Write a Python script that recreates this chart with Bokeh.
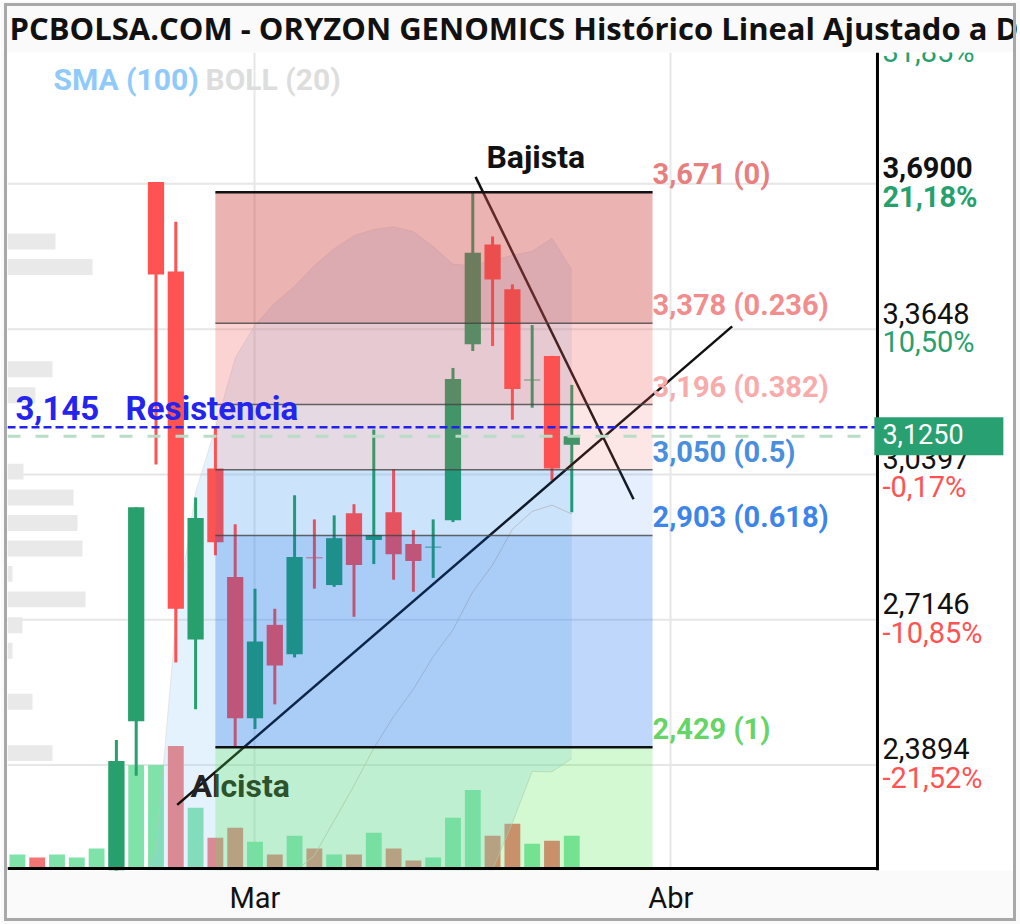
from bokeh.plotting import figure
from bokeh.models import Range1d, FixedTicker
from bokeh.core.properties import value
from bokeh.embed import file_html
from bokeh.resources import INLINE

# ---------------- data ----------------
# trading-day index of every session shown (volume row)
idx = list(range(29))
volume_k = [70, 55, 70, 55, 100, 500, 520, 520, 615, 305, 155, 205, 135, 70, 165,
            100, 70, 70, 180, 100, 40, 55, 255, 395, 165, 225, 125, 140, 165]
volume_dir = ["up", "down", "up", "up", "up", "up", "up", "up", "down", "up", "down",
              "down", "up", "down", "up", "down", "up", "down", "up", "down", "down",
              "up", "up", "up", "down", "down", "up", "down", "up"]

# candles inside the visible price range
c_idx = list(range(5, 29))
c_open = [2.05, 2.487, 3.694, 3.494, 2.670, 3.053, 2.810, 2.494, 2.703, 2.637, 2.854, 2.792,
          2.953, 2.893, 2.955, 2.884, 2.876, 2.937, 3.331, 3.554, 3.454, 3.250, 3.305, 3.106]
c_close = [2.398, 2.966, 3.487, 2.739, 2.942, 2.888, 2.494, 2.666, 2.612, 2.855, 2.852, 2.897,
           2.837, 2.904, 2.861, 2.846, 2.878, 3.253, 3.536, 3.476, 3.231, 3.252, 3.053, 3.125]
c_high = [2.445, 2.966, 3.694, 3.605, 2.988, 3.144, 2.928, 2.784, 2.739, 2.993, 2.939, 2.948,
          2.973, 3.140, 3.051, 2.915, 2.939, 3.278, 3.671, 3.572, 3.465, 3.374, 3.305, 3.240]
c_low = [2.00, 2.365, 3.062, 2.619, 2.514, 2.859, 2.429, 2.470, 2.525, 2.630, 2.784, 2.788,
         2.721, 2.839, 2.804, 2.777, 2.808, 2.933, 3.316, 3.327, 3.162, 3.189, 3.026, 2.955]

# Bollinger (20)
bb_idx = list(range(6, 29))
bb_upper = [2.10, 2.198, 2.710, 3.000, 3.144, 3.300, 3.374, 3.423, 3.461, 3.507, 3.545, 3.574,
            3.588, 3.594, 3.583, 3.550, 3.510, 3.507, 3.519, 3.530, 3.539, 3.568, 3.498]
bb_mid = [1.86, 1.88, 1.93, 1.97, 2.01, 2.05, 2.08, 2.11, 2.15, 2.187, 2.265, 2.343,
          2.427, 2.498, 2.559, 2.632, 2.692, 2.777, 2.837, 2.917, 2.957, 2.971, 2.951]
bb_lower = [1.62, 1.562, 1.15, 0.94, 0.876, 0.80, 0.786, 0.797, 0.839, 0.867, 0.985, 1.112,
            1.266, 1.402, 1.535, 1.714, 1.874, 2.047, 2.155, 2.26, 2.375, 2.374, 2.404]

# volume-by-price profile
vp_price = [3.561, 3.504, 3.275, 3.217, 3.046, 2.988, 2.931, 2.874, 2.817, 2.760, 2.702, 2.645, 2.531, 2.416]
vp_volume = [480, 850, 450, 280, 160, 660, 700, 750, 50, 780, 150, 50, 250, 450]

# Fibonacci retracement
fib_levels = [3.671, 3.378, 3.196, 3.050, 2.903, 2.429]
fib_ratios = ["0", "0.236", "0.382", "0.5", "0.618", "1"]
fib_span = [10, 32.08]

# trend lines
bajista_x, bajista_y = [23.14, 31.12], [3.7056, 2.984]
alcista_x, alcista_y = [8.07, 36.1], [2.300, 3.371]

resistance = 3.145
last_price = 3.125

# right price scale
axis_prices = [4.0151, 3.6900, 3.3648, 3.0397, 2.7146, 2.3894]
axis_price_labels = ["4,0151", "3,6900", "3,3648", "3,0397", "2,7146", "2,3894"]
axis_pct_labels = ["31,85%", "21,18%", "10,50%", "-0,17%", "-10,85%", "-21,52%"]

month_ticks = [12, 33]
month_labels = ["Mar", "Abr"]

title_text = "PCBOLSA.COM - ORYZON GENOMICS Histórico Lineal Ajustado a D"

# ---------------- styling ----------------
GREEN = "#27a06d"
RED = "#ff5252"
VGREEN = "#7fe2a9"
VRED = "#f27474"
ROBOTO = value("Roboto")

X_MIN, X_MAX = -0.5, 50.31
Y_MIN, Y_MAX = 2.1532, 3.984
X_AXIS = 43.44

p = figure(width=1020, height=924, x_range=Range1d(X_MIN, X_MAX), y_range=Range1d(Y_MIN, Y_MAX),
           output_backend="svg", toolbar_location=None, y_axis_location=None,
           min_border_left=7, min_border_right=7, min_border_top=48, min_border_bottom=54,
           background_fill_color="white", border_fill_color="#fafafa", outline_line_color=None)
p.stylesheets = [":host::after { content: ''; position: absolute; left: 4px; top: 3px; right: 4px; "
                 "bottom: 3px; border: 3px solid #a8a8a8; pointer-events: none; z-index: 50; }"]

p.title.text = title_text
p.title.text_font = "Open Sans"
p.title.text_font_style = "bold"
p.title.text_font_size = "31px"
p.title.text_color = "#111111"
p.title.offset = 2
p.title.standoff = 8

p.extra_y_ranges = {"vol": Range1d(-10, 4100)}
p.extra_x_ranges = {"vp": Range1d(0, 10060)}

# axis
p.xaxis.ticker = FixedTicker(ticks=month_ticks)
p.xaxis.major_label_overrides = {t: l for t, l in zip(month_ticks, month_labels)}
p.xaxis.major_label_text_font = "Roboto"
p.xaxis.major_label_text_font_size = "29px"
p.xaxis.major_label_text_color = "#111111"
p.xaxis.axis_line_color = None
p.xaxis.major_tick_line_color = None
p.xaxis.minor_tick_line_color = None
p.xaxis.major_label_standoff = 4
p.xgrid.ticker = FixedTicker(ticks=month_ticks)
p.xgrid.grid_line_color = "#e6e6e6"
p.xgrid.grid_line_width = 2
p.ygrid.visible = False

# horizontal grid lines (stop at the price axis)
p.segment(x0=X_MIN, x1=X_AXIS, y0=axis_prices, y1=axis_prices, line_color="#e6e6e6", line_width=2)

# volume profile
p.hbar(y=vp_price, left=0, right=vp_volume, height=0.0356, x_range_name="vp",
       fill_color="#e9e9e9", line_color=None)

# volume bars
vol_colors = [VGREEN if d == "up" else VRED for d in volume_dir]
p.vbar(x=idx, top=volume_k, bottom=0, width=0.8, y_range_name="vol",
       fill_color=vol_colors, line_color=None)

# Bollinger band
p.varea(x=bb_idx, y1=bb_lower, y2=bb_upper, fill_color="#90caf9", fill_alpha=0.25)
for ys, a in ((bb_upper, 0.35), (bb_mid, 0.9), (bb_lower, 0.6)):
    p.line(bb_idx, ys, line_color="#cdc6c0", line_width=1, line_alpha=a)

# candles
c_colors = [GREEN if c >= o else RED for o, c in zip(c_open, c_close)]
p.segment(x0=c_idx, x1=c_idx, y0=c_low, y1=c_high, line_color=c_colors, line_width=3)
p.vbar(x=c_idx, top=[max(o, c) for o, c in zip(c_open, c_close)],
       bottom=[min(o, c) for o, c in zip(c_open, c_close)], width=0.82,
       fill_color=c_colors, line_color=None)

# trend lines and their labels
p.line(bajista_x, bajista_y, line_color="#111111", line_width=2.5)
p.line(alcista_x, alcista_y, line_color="#111111", line_width=2.5)
p.text(x=[8.74], y=[2.320], text=["Alcista"], text_font=ROBOTO, text_font_size="32px",
       text_font_style="bold", text_color="#222222", text_baseline="alphabetic", y_offset=-10)
p.text(x=[23.69], y=[3.728], text=["Bajista"], text_font=ROBOTO, text_font_size="32px",
       text_font_style="bold", text_color="#111111", text_baseline="alphabetic", y_offset=-10)

# Fibonacci zones
zone_top = fib_levels
zone_bottom = fib_levels[1:] + [Y_MIN]
zone_colors = ["#d24b4b", "#f05050", "#f05050", "#0060ec", "#0060ec", "#50e650"]
zone_alpha = [0.42, 0.25, 0.14, 0.10, 0.25, 0.25]
p.quad(left=fib_span[0], right=fib_span[1], top=zone_top, bottom=zone_bottom,
       fill_color=zone_colors, fill_alpha=zone_alpha, line_color=None)
p.segment(x0=fib_span[0], x1=fib_span[1], y0=fib_levels, y1=fib_levels,
          line_color=["#111111", "#444444", "#444444", "#444444", "#444444", "#111111"],
          line_alpha=[1, 0.8, 0.8, 0.8, 0.8, 1],
          line_width=[2.5, 1.5, 1.5, 1.5, 1.5, 2.5])
fib_text = [f"{lv:.3f}".replace(".", ",") + f" ({r})" for lv, r in zip(fib_levels, fib_ratios)]
p.text(x=fib_span[1], y=fib_levels, text=fib_text, text_font=ROBOTO,
       text_font_size="29px", text_font_style="bold", text_baseline="alphabetic", y_offset=-18,
       text_color=["#e77f7f", "#f28d8d", "#f8abab", "#4a8ede", "#3d85e8", "#66d466"])

# resistance and last price lines
p.segment(x0=X_MIN, x1=X_AXIS, y0=resistance, y1=resistance, line_color="#2222ee",
          line_width=2.5, line_dash="8 4")
p.segment(x0=X_MIN, x1=X_AXIS, y0=last_price, y1=last_price, line_color="#b8dcc6",
          line_width=3, line_dash="13 15")
res_txt = f"{resistance:.3f}".replace(".", ",")
p.text(x=[-0.10, 5.46], y=[resistance, resistance], text=[res_txt, "Resistencia"],
       text_font=ROBOTO, text_font_size="33px", text_font_style="bold",
       text_color="#2424ee", text_baseline="alphabetic", y_offset=-19)

# price axis frame lines
p.segment(x0=X_AXIS, x1=X_AXIS, y0=Y_MIN, y1=Y_MAX, line_color="black", line_width=3)
p.segment(x0=X_MIN, x1=X_AXIS, y0=0, y1=0, y_range_name="vol", line_color="black", line_width=3)

# right scale labels
pct_colors = [GREEN if not s.startswith("-") else RED for s in axis_pct_labels]
styles = ["bold" if pr == 3.69 else "normal" for pr in axis_prices]
p.text(x=X_AXIS + 0.25, y=axis_prices, text=axis_price_labels, text_font=ROBOTO,
       text_font_size="29px", text_font_style=styles, text_color="#111111",
       text_baseline="alphabetic", y_offset=-16)
p.text(x=X_AXIS + 0.25, y=axis_prices, text=axis_pct_labels, text_font=ROBOTO,
       text_font_size="29px", text_font_style=styles, text_color=pct_colors,
       text_baseline="alphabetic", y_offset=13)

# last price box
p.rect(x=X_AXIS + 3.1, y=last_price, width=129, height=38, width_units="screen",
       height_units="screen", fill_color="#29a071", line_color=None)
p.text(x=[X_AXIS + 0.25], y=[last_price], text=[f"{last_price:.4f}".replace(".", ",")],
       text_font=ROBOTO, text_font_size="27px", text_color="white",
       text_baseline="alphabetic", y_offset=-2)

# indicator legend
p.text(x=[1.82, 9.5], y=[3.901, 3.901], text=["SMA (100)", "BOLL (20)"],
       text_font=ROBOTO, text_font_size="30px", text_font_style="bold",
       text_color=["#90caf9", "#dddddd"], text_baseline="alphabetic", y_offset=-10)

open("out.html", "w").write(file_html(p, INLINE))
